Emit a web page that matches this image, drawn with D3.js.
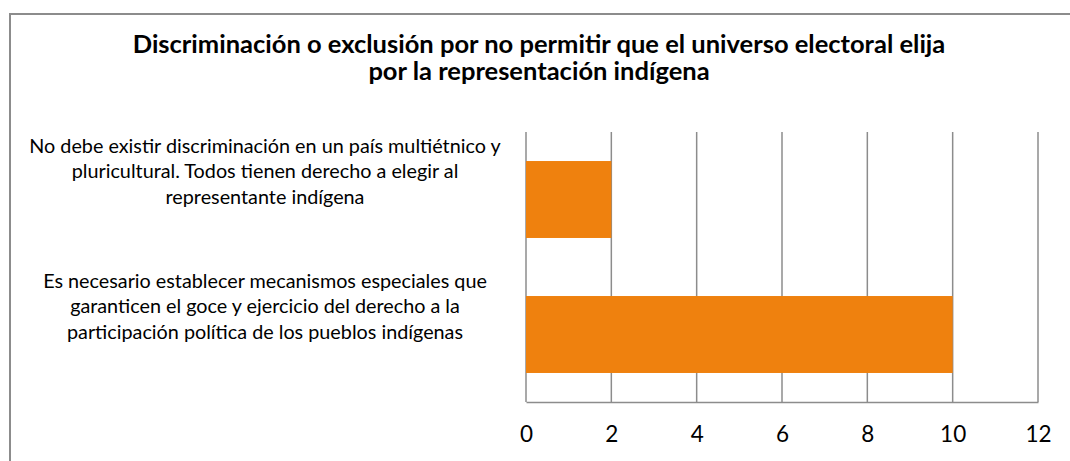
<!DOCTYPE html>
<html>
<head>
<meta charset="utf-8">
<script src="https://cdn.jsdelivr.net/npm/d3@7"></script>
<style>
  body { margin: 0; background: #fff; }
  svg { display: block; font-family: Lato, "Open Sans", sans-serif; }
</style>
</head>
<body>
<svg width="1070" height="461"></svg>
<script>
// data
var titleLines = ["Discriminación o exclusión por no permitir que el universo electoral elija",
                  "por la representación indígena"];
var categories = ["No debe existir", "Es necesario"];
var categoryLines = [
  ["No debe existir discriminación en un país multiétnico y",
   "pluricultural. Todos tienen derecho a elegir al",
   "representante indígena"],
  ["Es necesario establecer mecanismos especiales que",
   "garanticen el goce y ejercicio del derecho a la",
   "participación política de los pueblos indígenas"]
];
var values = [2, 10];
var xTicks = [0, 2, 4, 6, 8, 10, 12];

var svg = d3.select('svg');

// frame
svg.append('path')
  .attr('d', 'M10,461 V14 H1070')
  .attr('fill', 'none')
  .attr('stroke', '#8c8c8c')
  .attr('stroke-width', 2);

// title
svg.append('g').selectAll('text')
  .data(titleLines)
  .enter().append('text')
  .attr('x', 539)
  .attr('y', function(d, i){ return 53 + i * 27; })
  .attr('text-anchor', 'middle')
  .attr('font-weight', 'bold')
  .attr('font-size', '25.5px')
  .attr('fill', '#000')
  .text(function(d){ return d; });

var x = d3.scaleLinear().domain([0, 12]).range([526, 1038]);
var y = d3.scaleBand().domain(categories).range([132, 402])
  .paddingInner(0.43).paddingOuter(0.215);

// gridlines
svg.append('g').selectAll('line')
  .data(xTicks)
  .enter().append('line')
  .attr('x1', function(d){ return x(d); })
  .attr('x2', function(d){ return x(d); })
  .attr('y1', 132).attr('y2', 402)
  .attr('stroke', '#8c8c8c')
  .attr('stroke-width', 1.5);

// bars
svg.append('g').selectAll('rect')
  .data(values)
  .enter().append('rect')
  .attr('x', x(0))
  .attr('y', function(d, i){ return y(categories[i]); })
  .attr('width', function(d){ return x(d) - x(0); })
  .attr('height', y.bandwidth())
  .attr('fill', '#ef810e');

// x axis
var xAxis = svg.append('g')
  .attr('transform', 'translate(0,402)')
  .call(d3.axisBottom(x).tickValues(xTicks).tickSize(0).tickPadding(24));
xAxis.select('.domain').attr('stroke', '#8c8c8c').attr('stroke-width', 1.5);
xAxis.selectAll('text')
  .attr('font-family', 'Lato, "Open Sans", sans-serif')
  .attr('font-size', '22.5px')
  .attr('fill', '#000');

// category labels
var lab = svg.append('g').selectAll('g')
  .data(categoryLines)
  .enter().append('g');
lab.selectAll('text')
  .data(function(d, i){ return d.map(function(t, j){ return {t: t, j: j, i: i}; }); })
  .enter().append('text')
  .attr('x', 265)
  .attr('y', function(d){
    var c = y(categories[d.i]) + y.bandwidth() / 2;
    return c - 47 + d.j * 25.8;
  })
  .attr('text-anchor', 'middle')
  .attr('font-size', '19.8px')
  .attr('fill', '#000')
  .text(function(d){ return d.t; });
</script>
</body>
</html>
